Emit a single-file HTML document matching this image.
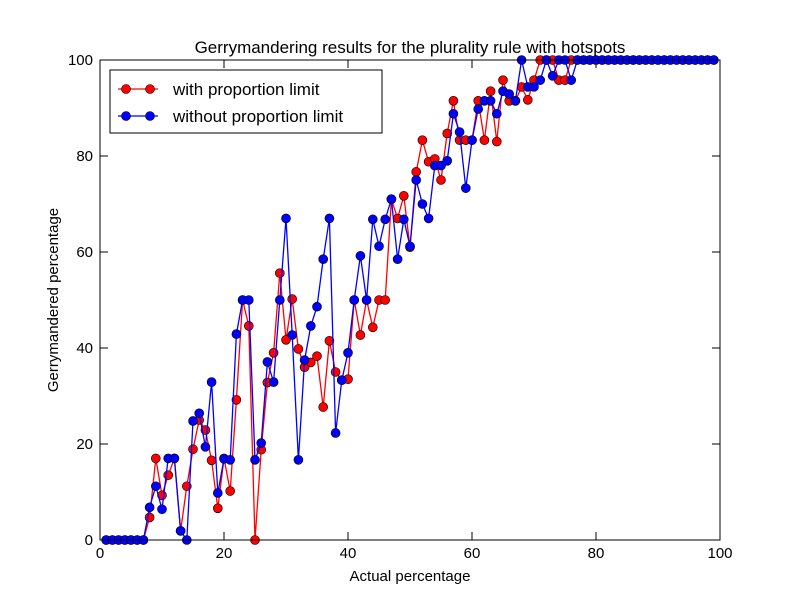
<!DOCTYPE html>
<html><head><meta charset="utf-8"><style>
body{margin:0;background:#fff;}
svg text{font-family:"Liberation Sans","DejaVu Sans",sans-serif;}
</style></head><body>
<svg id="chart" width="800" height="600" xmlns="http://www.w3.org/2000/svg">
<rect width="800" height="600" fill="#fff"/>
<text x="410" y="53" font-size="17" text-anchor="middle">Gerrymandering results for the plurality rule with hotspots</text>
<text x="410" y="581" font-size="15" text-anchor="middle">Actual percentage</text>
<text x="58" y="300" font-size="15" text-anchor="middle" transform="rotate(-90 58 300)">Gerrymandered percentage</text>
<g id="axes"></g>
<g id="series"></g>
<rect x="100" y="60" width="620" height="480" fill="none" stroke="#000" stroke-width="1"/>
<g>
<rect x="110" y="70" width="272" height="63" fill="#fff" stroke="#000"/>
<g>
<line x1="118" y1="89" x2="158" y2="89" stroke="#f00" stroke-width="1.3"/>
<circle cx="126" cy="89" r="4.5" fill="#f00" stroke="#000" stroke-width="0.6"/>
<circle cx="150" cy="89" r="4.5" fill="#f00" stroke="#000" stroke-width="0.6"/>
<text x="173" y="95" font-size="17">with proportion limit</text></g>
<g>
<line x1="118" y1="116" x2="158" y2="116" stroke="#00f" stroke-width="1.3"/>
<circle cx="126" cy="116" r="4.5" fill="#00f" stroke="#000" stroke-width="0.6"/>
<circle cx="150" cy="116" r="4.5" fill="#00f" stroke="#000" stroke-width="0.6"/>
<text x="173" y="122" font-size="17">without proportion limit</text></g>
</g>
</svg>
<script>
const xs=[];for(let i=1;i<=99;i++)xs.push(i);
const withLimit=[0,0,0,0,0,0,0,4.7,17,9.3,13.5,17,1.9,11.2,18.9,25,22.9,16.6,6.6,17,10.2,29.2,50,44.6,0,18.8,32.8,39,55.6,41.7,50.2,39.8,36,37,38.3,27.7,41.5,35,33.3,33.5,50,42.7,50,44.3,50,50,71,67,71.7,61,76.7,83.3,78.8,79.4,75,84.7,91.5,83.3,83.3,83.3,91.5,83.3,93.5,83,95.8,91.5,91.5,94.4,91.7,95.8,100,100,100,95.8,95.8,100,100,100,100,100,100,100,100,100,100,100,100,100,100,100,100,100,100,100,100,100,100,100,100];
const withoutLimit=[0,0,0,0,0,0,0,6.8,11.2,6.4,17,17,1.9,0,24.8,26.4,19.4,32.9,9.8,16.9,16.7,42.9,50,50,16.7,20.2,37.1,32.9,50,67,42.7,16.7,37.5,44.6,48.6,58.5,67,22.3,33.3,39,50,59.2,50,66.8,61.2,66.8,71,58.5,66.8,61.2,75,70,67,78,78,79,88.8,85,73.3,83.3,89.8,91.5,91.5,88.8,93.5,92.9,91.5,100,94.4,94.4,95.8,100,96.7,100,100,95.8,100,100,100,100,100,100,100,100,100,100,100,100,100,100,100,100,100,100,100,100,100,100,100];
const xTicks=[0,20,40,60,80,100];
const yTicks=[0,20,40,60,80,100];
const NS="http://www.w3.org/2000/svg";
const sx=v=>100+v*6.2, sy=v=>540-v*4.8;
function mk(t,a,p){const e=document.createElementNS(NS,t);for(const k in a)e.setAttribute(k,a[k]);p.appendChild(e);return e;}
const axes=document.getElementById('axes');
xTicks.forEach(t=>{
 const g=mk('g',{},axes);
 
 
 mk('line',{x1:sx(t),x2:sx(t),y1:540,y2:532,stroke:'#000'},g);
 mk('line',{x1:sx(t),x2:sx(t),y1:60,y2:68,stroke:'#000'},g);
 const tx=mk('text',{x:sx(t),y:558,'font-size':15,'text-anchor':'middle'},g);tx.textContent=t;
});
yTicks.forEach(t=>{
 const g=mk('g',{},axes);
 
 
 mk('line',{x1:100,x2:108,y1:sy(t),y2:sy(t),stroke:'#000'},g);
 mk('line',{x1:720,x2:712,y1:sy(t),y2:sy(t),stroke:'#000'},g);
 const tx=mk('text',{x:93,y:sy(t)+5,'font-size':15,'text-anchor':'end'},g);tx.textContent=t;
});
const ser=document.getElementById('series');
function draw(vals,col,name){
 const g=mk('g',{},ser);
 
 
 mk('polyline',{points:vals.map((v,i)=>sx(xs[i])+','+sy(v)).join(' '),fill:'none',stroke:col,'stroke-width':1.3},g);
 vals.forEach((v,i)=>{
  const c=mk('circle',{cx:sx(xs[i]),cy:sy(v),r:4.5,fill:col,stroke:'#000','stroke-width':0.6},g);
  
  
 });
}
draw(withLimit,'#f00','series-with-limit');
draw(withoutLimit,'#00f','series-without-limit');
</script>
</body></html>
